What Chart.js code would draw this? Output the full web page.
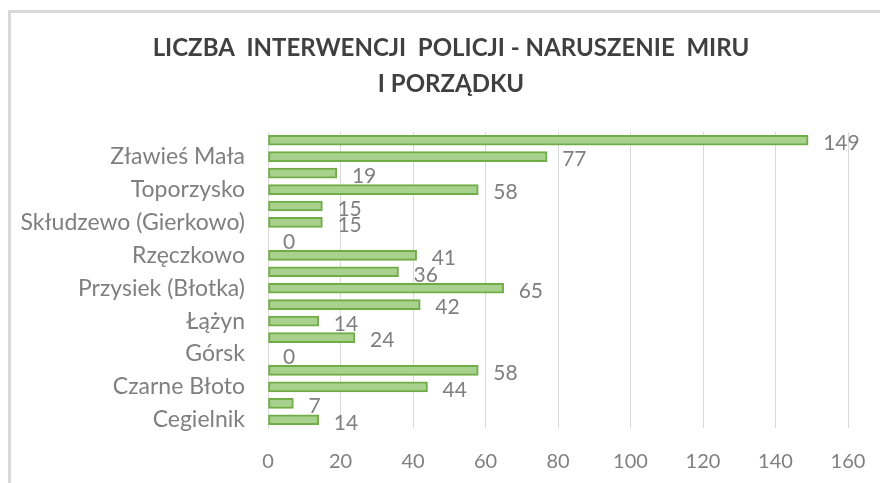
<!DOCTYPE html>
<html>
<head>
<meta charset="utf-8">
<script src="https://cdn.jsdelivr.net/npm/chart.js@4.4.1/dist/chart.umd.min.js"></script>
<style>
  html, body { margin: 0; padding: 0; background: #fff; }
  #wrap { position: relative; width: 880px; height: 483px; }
  #frame {
    position: absolute; left: 8px; top: 10px; right: 0; bottom: 0;
    border-left: 3px solid #d9d9d9; border-top: 3px solid #d9d9d9;
    pointer-events: none;
  }
</style>
</head>
<body>
<div id="wrap">
  <canvas id="c" width="880" height="483"></canvas>
  <div id="frame"></div>
</div>
<script>
// villages, top to bottom as in the picture
const villages = [
  'Zławieś Wielka', 'Zławieś Mała', 'Zarośle Cienkie', 'Toporzysko',
  'Stary Toruń', 'Skłudzewo (Gierkowo)', 'Siemoń', 'Rzęczkowo',
  'Rozgarty', 'Przysiek (Błotka)', 'Pędzewo', 'Łążyn',
  'Gutowo', 'Górsk', 'Czarnowo', 'Czarne Błoto',
  'Cichoradz', 'Cegielnik'
];
const interventions = [149, 77, 19, 58, 15, 15, 0, 41, 36, 65, 42, 14, 24, 0, 58, 44, 7, 14];
const titleLines = ['LICZBA  INTERWENCJI  POLICJI - NARUSZENIE  MIRU', 'I PORZĄDKU'];

const FONT = 'Lato, "Liberation Sans", sans-serif';
const grey = '#7f7f7f';

// title is drawn by hand: in the picture it sits right of the canvas centre
const titleDraw = {
  id: 'titleDraw',
  afterDraw(chart) {
    const ctx = chart.ctx;
    ctx.save();
    ctx.font = 'bold 24px ' + FONT;
    ctx.fillStyle = '#404040';
    ctx.textAlign = 'center';
    ctx.textBaseline = 'middle';
    titleLines.forEach((t, i) => ctx.fillText(t, 451, 48 + i * 36));
    ctx.restore();
  }
};

// value labels to the right of each bar
const valueLabels = {
  id: 'valueLabels',
  afterDatasetsDraw(chart) {
    const ctx = chart.ctx;
    const meta = chart.getDatasetMeta(0);
    ctx.save();
    ctx.font = '21px ' + FONT;
    ctx.fillStyle = grey;
    ctx.textAlign = 'left';
    ctx.textBaseline = 'middle';
    meta.data.forEach((bar, i) => {
      ctx.fillText(String(interventions[i]), bar.x + 15, bar.y + 3);
    });
    ctx.restore();
  }
};

new Chart(document.getElementById('c'), {
  type: 'bar',
  data: {
    labels: villages,
    datasets: [{
      data: interventions,
      backgroundColor: '#a9d18e',
      borderColor: '#70ad47',
      borderWidth: 2,
      borderSkipped: false,
      barThickness: 10
    }]
  },
  options: {
    indexAxis: 'y',
    responsive: false,
    animation: false,
    layout: { padding: { left: 10, right: 0, top: 132, bottom: 0 } },
    plugins: {
      legend: { display: false },
      tooltip: { enabled: false },
      title: { display: false }
    },
    scales: {
      x: {
        min: 0, max: 160,
        afterFit(axis) {
          axis.height = 55;
          axis.paddingLeft = 0;
          axis.paddingRight = 32;
        },
        ticks: { stepSize: 20, color: grey, font: { family: FONT, size: 20 }, padding: 22 },
        grid: { color: '#d9d9d9', drawTicks: false },
        border: { display: false }
      },
      y: {
        afterFit(axis) { axis.width = 258; },
        ticks: {
          autoSkip: false,
          color: grey,
          font: { family: FONT, size: 23 },
          padding: 23,
          callback(v, i) { return i % 2 === 1 ? villages[i] : ''; }
        },
        grid: { display: false, drawTicks: false },
        border: { color: '#d9d9d9' }
      }
    }
  },
  plugins: [valueLabels, titleDraw]
});
</script>
</body>
</html>
